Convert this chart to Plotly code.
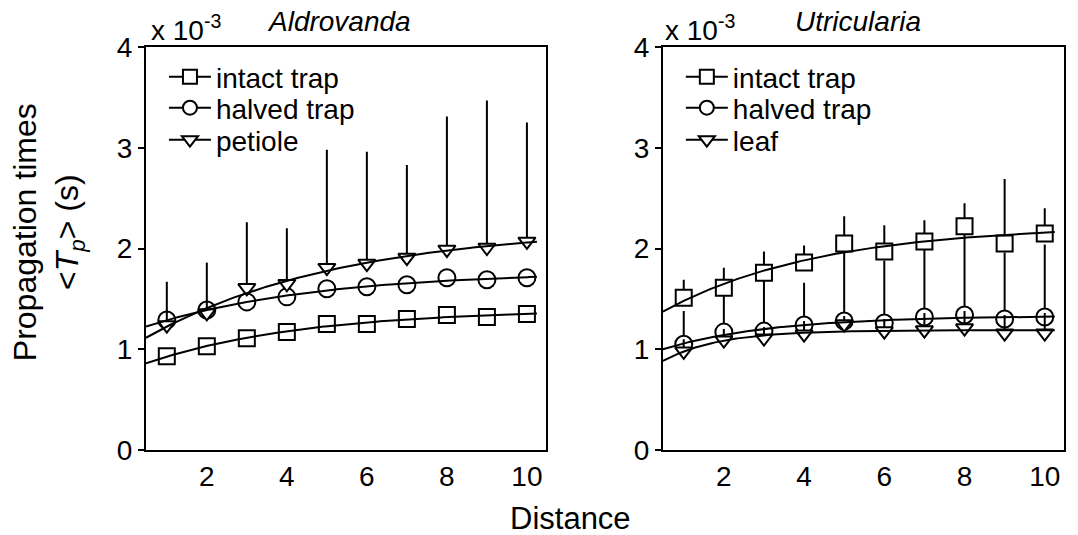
import numpy as np
import plotly.graph_objects as go

# ---------------- data (values in units of 1e-3 s) ----------------
distance = [1, 2, 3, 4, 5, 6, 7, 8, 9, 10]

ald_intact = [0.93, 1.03, 1.11, 1.17, 1.25, 1.25, 1.30, 1.34, 1.32, 1.35]
ald_halved = [1.29, 1.39, 1.47, 1.52, 1.60, 1.62, 1.64, 1.71, 1.69, 1.71]
ald_petiole = [1.24, 1.36, 1.61, 1.65, 1.81, 1.85, 1.91, 1.99, 2.01, 2.07]
ald_petiole_top = [1.67, 1.86, 2.26, 2.20, 2.98, 2.96, 2.83, 3.31, 3.47, 3.25]

utr_intact = [1.51, 1.61, 1.76, 1.86, 2.05, 1.97, 2.07, 2.22, 2.05, 2.15]
utr_intact_top = [1.69, 1.81, 1.97, 2.03, 2.32, 2.23, 2.28, 2.45, 2.69, 2.40]
utr_halved = [1.05, 1.17, 1.18, 1.24, 1.28, 1.26, 1.32, 1.34, 1.30, 1.32]
utr_halved_top = [1.38, 1.58, 1.70, 1.66, 1.98, 1.88, 2.00, 2.14, 1.96, 2.04]
utr_leaf = [0.98, 1.09, 1.11, 1.15, 1.25, 1.18, 1.19, 1.21, 1.16, 1.16]
utr_leaf_top = [1.10, 1.20, 1.22, 1.28, 1.33, 1.30, 1.36, 1.38, 1.34, 1.36]

y_ticks = [0, 1, 2, 3, 4]
x_ticks = [2, 4, 6, 8, 10]
panel_titles = ["Aldrovanda", "Utricularia"]
names_left = ["intact trap", "halved trap", "petiole"]
names_right = ["intact trap", "halved trap", "leaf"]

FONT = "Liberation Sans, Arial, sans-serif"
X_RANGE = [0.48, 10.48]


def sat_fit(x, y, xc):
    """Least-squares fit of y = A + B*exp(-x/tau) to the data."""
    x = np.asarray(x, float)
    y = np.asarray(y, float)
    best = None
    for tau in np.linspace(0.2, 30, 3000):
        M = np.column_stack([np.ones_like(x), np.exp(-x / tau)])
        coef = np.linalg.lstsq(M, y, rcond=None)[0]
        r = float(np.sum((M @ coef - y) ** 2))
        if best is None or r < best[0]:
            best = (r, tau, coef)
    _, tau, coef = best
    return coef[0] + coef[1] * np.exp(-xc / tau)


x_curve = np.linspace(X_RANGE[0], 10.25, 300)

fig = go.Figure()

kind_sym = {"sq": "square", "ci": "circle", "tr": "triangle-down"}
SIZE = {"sq": 16, "ci": 17, "tr": 15}


def mk(kind, size=None):
    return dict(symbol=kind_sym[kind], size=size or SIZE[kind], color="white",
                line=dict(color="black", width=2))


def add_points(x, y, top, kind, xa, ya):
    err = None
    if top is not None:
        err = dict(type="data", symmetric=False,
                   array=[t - v for t, v in zip(top, y)],
                   arrayminus=[0] * len(y), width=0, thickness=2, color="black")
    fig.add_trace(go.Scatter(x=x, y=y, mode="markers", marker=mk(kind),
                             error_y=err, showlegend=False, xaxis=xa, yaxis=ya,
                             cliponaxis=False))


def add_fit(x, y, xa, ya):
    fig.add_trace(go.Scatter(x=x_curve, y=sat_fit(x, y, x_curve), mode="lines",
                             line=dict(color="black", width=2), showlegend=False,
                             xaxis=xa, yaxis=ya, hoverinfo="skip"))


# left panel
add_points(distance, ald_halved, None, "ci", "x", "y")
add_points(distance, ald_petiole, ald_petiole_top, "tr", "x", "y")
add_points(distance, ald_intact, None, "sq", "x", "y")
for s in (ald_intact, ald_halved, ald_petiole):
    add_fit(distance, s, "x", "y")

# right panel
add_points(distance, utr_halved, utr_halved_top, "ci", "x2", "y2")
add_points(distance, utr_leaf, utr_leaf_top, "tr", "x2", "y2")
add_points(distance, utr_intact, utr_intact_top, "sq", "x2", "y2")
for s in (utr_intact, utr_halved, utr_leaf):
    add_fit(distance, s, "x2", "y2")

# legends (one entry per legend box so rows can be spaced like the original)
kinds = ["sq", "ci", "tr"]
PLOT_L, PLOT_W, PLOT_B, PLOT_H = 146, 920, 450, 403
row_px = [77, 108, 140]
legend_layout = {}
li = 1
for names, x_px in ((names_left, 164), (names_right, 682)):
    for name, kind, rp in zip(names, kinds, row_px):
        key = "legend" if li == 1 else f"legend{li}"
        fig.add_trace(go.Scatter(x=[None], y=[None], mode="lines+markers",
                                 name=name, marker=mk(kind, 14),
                                 line=dict(color="black", width=2),
                                 legend=key, showlegend=True))
        legend_layout[key] = dict(
            x=(x_px - PLOT_L) / PLOT_W, y=(PLOT_B - rp) / PLOT_H,
            xanchor="left", yanchor="middle", bgcolor="rgba(0,0,0,0)",
            borderwidth=0, itemwidth=42,
            font=dict(family=FONT, size=28, color="black"))
        li += 1

axis_common = dict(showline=True, linecolor="black", linewidth=2, mirror=True,
                   showgrid=False, zeroline=False,
                   tickfont=dict(family=FONT, size=28, color="black"))

left_dom = [0, 401 / 920]
right_dom = [(664 - 146) / 920, 1.0]

fig.update_layout(
    width=1078, height=535,
    margin=dict(l=146, r=12, t=47, b=85),
    paper_bgcolor="white", plot_bgcolor="white",
    xaxis=dict(domain=left_dom, range=X_RANGE, tickvals=x_ticks, ticks="",
               anchor="y", **axis_common),
    yaxis=dict(domain=[0, 1], range=[0, 4], tickvals=y_ticks, ticks="outside",
               ticklen=6, tickwidth=2, tickcolor="black", anchor="x", **axis_common),
    xaxis2=dict(domain=right_dom, range=X_RANGE, tickvals=x_ticks, ticks="",
                anchor="y2", **axis_common),
    yaxis2=dict(domain=[0, 1], range=[0, 4], tickvals=y_ticks, ticks="outside",
                ticklen=6, tickwidth=2, tickcolor="black", anchor="x2", **axis_common),
    **legend_layout,
)


def px_x(p):
    return (p - PLOT_L) / PLOT_W


def px_y(p):
    return (PLOT_B - p) / PLOT_H


annots = [
    dict(text="x 10<sup>-3</sup>", x=px_x(149), y=px_y(28), xanchor="left",
         yanchor="middle", font=dict(size=28)),
    dict(text="x 10<sup>-3</sup>", x=px_x(664), y=px_y(28), xanchor="left",
         yanchor="middle", font=dict(size=28)),
    dict(text=f"<i>{panel_titles[0]}</i>", x=px_x(339), y=px_y(22),
         xanchor="center", yanchor="middle", font=dict(size=28)),
    dict(text=f"<i>{panel_titles[1]}</i>", x=px_x(860), y=px_y(22),
         xanchor="center", yanchor="middle", font=dict(size=28)),
    dict(text="Propagation times<br>&lt;<i>T</i><sub><i>p</i></sub>&gt; (s)",
         x=px_x(48), y=px_y(232), xanchor="center", yanchor="middle",
         textangle=-90, font=dict(size=32)),
    dict(text="Distance", x=px_x(571), y=px_y(518), xanchor="center",
         yanchor="middle", font=dict(size=31)),
]
for a in annots:
    a["font"].update(family=FONT, color="black")
    fig.add_annotation(xref="paper", yref="paper", showarrow=False, **a)

fig.write_html("out.html")
